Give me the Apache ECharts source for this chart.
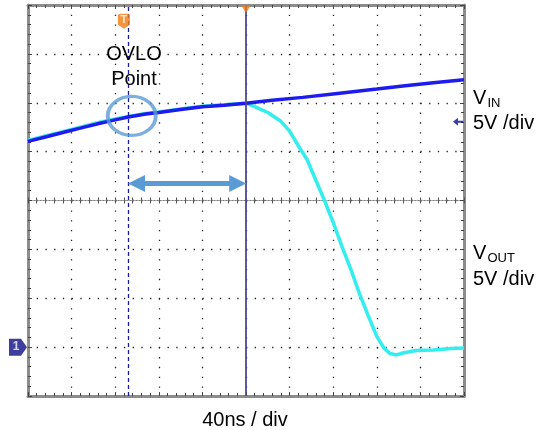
<!DOCTYPE html>
<html><head><meta charset="utf-8">
<script src="https://cdn.jsdelivr.net/npm/echarts@6/dist/echarts.min.js"></script>
<style>html,body{margin:0;padding:0;background:#fff}#c{width:544px;height:430px}</style>
</head><body><div id="c"></div>
<script>
// Time in divisions (40 ns/div), amplitude in divisions (5 V/div)
const vinX  = [0,0.4,0.8,1.2,1.65,2.0,2.3,2.7,3.0,3.5,4.0,4.5,5.0,5.6,6.3,7.1,7.5,8.0,8.65,9.3,10];
const vinY  = [1.21,1.30,1.39,1.48,1.58,1.65,1.71,1.77,1.80,1.86,1.92,1.95,1.99,2.05,2.11,2.19,2.23,2.28,2.35,2.41,2.47];
const voutX = [0,0.4,0.8,1.2,1.65,2.0,2.3,2.7,3.0,3.5,4.0,4.5,5.0,5.2,5.5,5.8,6.0,6.2,6.4,6.6,6.8,7.0,7.2,7.4,7.6,7.8,8.0,8.15,8.3,8.45,8.6,8.9,9.3,9.7,10];
const voutY = [1.23,1.32,1.41,1.50,1.60,1.67,1.72,1.78,1.81,1.87,1.93,1.96,1.99,1.92,1.80,1.62,1.42,1.12,0.84,0.42,0.0,-0.45,-0.94,-1.4,-1.9,-2.35,-2.78,-3.0,-3.13,-3.16,-3.12,-3.07,-3.06,-3.03,-3.02];
const xDivs = [0, 10];
const yDivs = [-4, 4];
const ovloX = 2.3;       // OVLO cursor
const trigX = 5.0;       // trigger position
const ch1Ground = -3;    // channel 1 marker level
const ch2Ref = 1.61;     // VIN marker level
const arrowY = 0.35;
const ellipse = [2.38, 1.73];
const trigMarker = [2.2, 3.67];
const topMarker = [5.0, 3.92];

const FONT = '"Liberation Sans", Arial, sans-serif';
const pairs = (xs, ys) => xs.map((x, i) => [x, ys[i]]);

function borderX(pos) {
  return {type:'value', position:pos, min:xDivs[0], max:xDivs[1], interval:1,
    axisLine:{show:true, onZero:false, lineStyle:{color:'#8c8c8c', width:3}},
    axisTick:{show:true, inside:true, length:4, lineStyle:{color:'#444'}},
    minorTick:{show:true, splitNumber:5, length:3, lineStyle:{color:'#444'}},
    axisLabel:{show:false}, splitLine:{show:false}};
}
function borderY(pos) {
  return {type:'value', position:pos, min:yDivs[0], max:yDivs[1], interval:1,
    axisLine:{show:true, onZero:false, lineStyle:{color:'#8c8c8c', width:3}},
    axisTick:{show:true, inside:true, length:4, lineStyle:{color:'#444'}},
    minorTick:{show:true, splitNumber:5, length:3, lineStyle:{color:'#444'}},
    axisLabel:{show:false}, splitLine:{show:false}};
}
function centerX(inside) {
  return {type:'value', position:'bottom', min:xDivs[0], max:xDivs[1], interval:1,
    axisLine:{show:true, onZero:true, onZeroAxisIndex:0, lineStyle:{color:'#777', width:1, type:[1,2]}},
    axisTick:{show:true, inside:inside, length:3, lineStyle:{color:'#555'}},
    minorTick:{show:true, splitNumber:5, length:3, lineStyle:{color:'#555'}},
    axisLabel:{show:false}, splitLine:{show:false}};
}

const xMain = borderX('bottom');
xMain.splitLine = {show:true, lineStyle:{color:'#222', width:1.3, type:[1.3, 8.48]}};
const yMain = borderY('left');
yMain.splitLine = {show:true, lineStyle:{color:'#222', width:1.3, type:[1.3, 7.42]}};

const txt = (t, x, y, size, align) => ({type:'text', x:x, y:y, z:20,
  style:{text:t, font:size + 'px ' + FONT, fill:'#000', textAlign:align, textVerticalAlign:'middle'}});

const option = {
  animation:false,
  backgroundColor:'#fff',
  grid:{left:28, right:80, top:5, bottom:34, containLabel:false},
  xAxis:[xMain, borderX('top'), centerX(true), centerX(false)],
  yAxis:[yMain, borderY('right')],
  series:[
    {type:'line', name:'VOUT', data:pairs(voutX, voutY), showSymbol:false, symbol:'none',
      lineStyle:{color:'#33eeee', width:3.5}, z:3},
    {type:'line', name:'VIN', data:pairs(vinX, vinY), showSymbol:false, symbol:'none',
      lineStyle:{color:'#1c1cf0', width:3.5}, z:4},
    {type:'line', data:[], z:5,
      markLine:{silent:true, symbol:['none','none'], label:{show:false},
        data:[
          [{coord:[ovloX, yDivs[0]], lineStyle:{color:'#1a1aa8', width:1.3, type:[4,3]}}, {coord:[ovloX, yDivs[1]]}],
          [{coord:[trigX, yDivs[0]], lineStyle:{color:'#4a4a8e', width:2, type:'solid', opacity:0.9}}, {coord:[trigX, yDivs[1]]}]
        ]}},
    {type:'line', data:[], z:7,
      markLine:{silent:true, symbol:['triangle','triangle'], symbolSize:[17,17], label:{show:false},
        lineStyle:{color:'#5b9bd5', width:5, type:'solid'},
        data:[[{coord:[ovloX + 0.19, arrowY]}, {coord:[trigX - 0.19, arrowY]}]]}},
    {type:'scatter', data:[ellipse], symbol:'circle', symbolSize:[48,39], z:6, silent:true,
      itemStyle:{color:'rgba(0,0,0,0)', borderColor:'#5b9bd5', borderWidth:3.5}},
    {type:'scatter', data:[trigMarker], symbol:'path://M2,0 L9,0 Q11,0 11,2 L11,11 L5.5,15 L0,11 L0,2 Q0,0 2,0 Z',
      symbolSize:[12,15], z:8, silent:true,
      itemStyle:{color:'#f07a10'},
      label:{show:true, position:'inside', offset:[0,-1], formatter:'T', color:'#fff', fontWeight:'bold', fontSize:11, fontFamily:FONT}},
    {type:'scatter', data:[topMarker], symbol:'triangle', symbolRotate:180, symbolSize:[10,8], z:8, silent:true,
      itemStyle:{color:'#f07a10'}},
    {type:'scatter', data:[[xDivs[0], ch1Ground]], clip:false, symbol:'path://M0,0 L12,0 L18,8 L12,16 L0,16 Z',
      symbolSize:[18,17], symbolOffset:[-10,0], symbolKeepAspect:false, z:8, silent:true,
      itemStyle:{color:'#0e0e86'},
      label:{show:true, position:'inside', offset:[-2,0], formatter:'1', color:'#fff', fontWeight:'bold', fontSize:12, fontFamily:FONT}},
    {type:'scatter', data:[[xDivs[1], ch2Ref]], clip:false, symbol:'path://M0,4 L5,0 L5,3 L10,3 L10,5 L5,5 L5,8 Z',
      symbolSize:[10,8], symbolOffset:[-6,0], z:8, silent:true, itemStyle:{color:'#0a0a9a'}}
  ],
  graphic:[
    txt('OVLO', 134, 54, 20, 'center'),
    txt('Point', 134, 79, 20, 'center'),
    txt('V', 473, 98, 20, 'left'),
    txt('IN', 487.5, 103, 13, 'left'),
    txt('5V /div', 473, 123, 20, 'left'),
    txt('V', 473, 253, 20, 'left'),
    txt('OUT', 487.5, 258, 13, 'left'),
    txt('5V /div', 473, 279, 20, 'left'),
    txt('40ns / div', 245, 420, 20, 'center')
  ]
};
const chart = echarts.init(document.getElementById('c'));
chart.setOption(option);
</script>
</body></html>
